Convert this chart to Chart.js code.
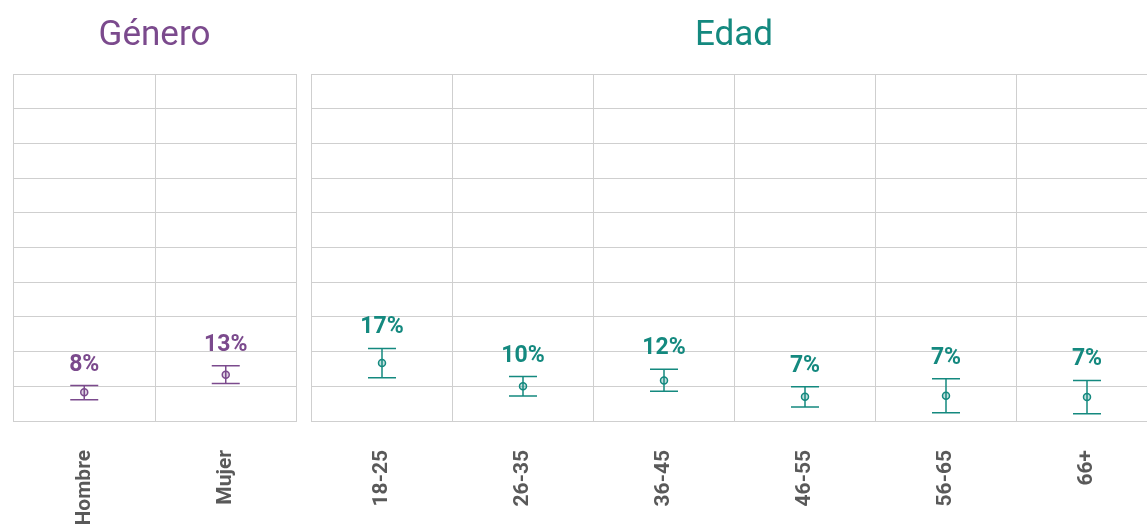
<!DOCTYPE html>
<html>
<head>
<meta charset="utf-8">
<script src="https://cdn.jsdelivr.net/npm/chart.js@4/dist/chart.umd.min.js"></script>
<style>
  html, body { margin: 0; padding: 0; background: #fff; overflow: hidden; width: 1147px; height: 524px; }
  .panel { position: absolute; top: 0; height: 524px; }
</style>
</head>
<body>
<div class="panel" style="left: 8px; width: 294px;"><canvas id="genero"></canvas></div>
<div class="panel" style="left: 306px; width: 857px;"><canvas id="edad"></canvas></div>
<script>
const generoLabels = ['Hombre', 'Mujer'];
const generoValues = [8.3, 13.3];
const generoLow = [6.1, 10.8];
const generoHigh = [10.2, 15.9];

const edadLabels = ['18-25', '26-35', '36-45', '46-55', '56-65', '66+'];
const edadValues = [16.7, 10.0, 11.7, 7.0, 7.3, 6.9];
const edadLow = [12.5, 7.2, 8.6, 4.0, 2.4, 2.1];
const edadHigh = [20.9, 12.8, 14.9, 9.9, 12.2, 11.7];

const gridColor = '#cfcfcf';
const fontFamily = 'Roboto, "Noto Sans", sans-serif';

// whiskers and value labels, placed through the chart scales
const errorBars = {
  id: 'errorBars',
  afterDatasetsDraw(chart, args, opts) {
    const ctx = chart.ctx;
    const x = chart.scales.x;
    const y = chart.scales.y;
    ctx.save();
    ctx.strokeStyle = opts.color;
    ctx.fillStyle = opts.color;
    ctx.lineWidth = 1.5;
    opts.low.forEach((lo, i) => {
      const px = x.getPixelForValue(i);
      const top = y.getPixelForValue(opts.high[i]);
      const bot = y.getPixelForValue(lo);
      ctx.beginPath();
      ctx.moveTo(px, top); ctx.lineTo(px, bot);
      ctx.moveTo(px - 14, top); ctx.lineTo(px + 14, top);
      ctx.moveTo(px - 14, bot); ctx.lineTo(px + 14, bot);
      ctx.stroke();
      ctx.font = 'bold 23px ' + fontFamily;
      ctx.textAlign = 'center';
      ctx.textBaseline = 'alphabetic';
      ctx.fillText(Math.round(opts.values[i]) + '%', px, top - 15);
    });
    ctx.restore();
  }
};

function makeChart(id, title, color, fill, labels, values, low, high) {
  return new Chart(document.getElementById(id), {
    type: 'line',
    data: {
      labels: labels,
      datasets: [{
        data: values,
        showLine: false,
        pointRadius: 3.5,
        pointBorderWidth: 1.5,
        pointBorderColor: color,
        pointBackgroundColor: fill
      }]
    },
    options: {
      responsive: true,
      maintainAspectRatio: false,
      animation: false,
      layout: { padding: { left: 1, right: 2, top: 0, bottom: 0 } },
      plugins: {
        legend: { display: false },
        tooltip: { enabled: false },
        title: {
          display: true,
          text: title,
          color: color,
          font: { family: fontFamily, size: 35, weight: 'normal' },
          padding: { top: 15, bottom: 17 }
        },
        errorBars: { color: color, values: values, low: low, high: high }
      },
      scales: {
        x: {
          offset: true,
          grid: { offset: true, color: gridColor, drawTicks: false },
          border: { color: gridColor },
          ticks: {
            color: '#595959',
            font: { family: fontFamily, size: 21, weight: 'bold' },
            minRotation: 90,
            maxRotation: 90,
            padding: 29
          },
          afterFit: a => { a.height = 103; }
        },
        y: {
          min: 0,
          max: 100,
          ticks: { display: false, stepSize: 10 },
          grid: { color: gridColor, drawTicks: false },
          border: { color: gridColor },
          afterFit: a => { a.width = 0; }
        }
      }
    },
    plugins: [errorBars]
  });
}

makeChart('genero', 'Género', '#7b4a8d', 'rgba(123,74,141,0.25)', generoLabels, generoValues, generoLow, generoHigh);
makeChart('edad', 'Edad', '#14897f', 'rgba(20,137,127,0.25)', edadLabels, edadValues, edadLow, edadHigh);
</script>
</body>
</html>
